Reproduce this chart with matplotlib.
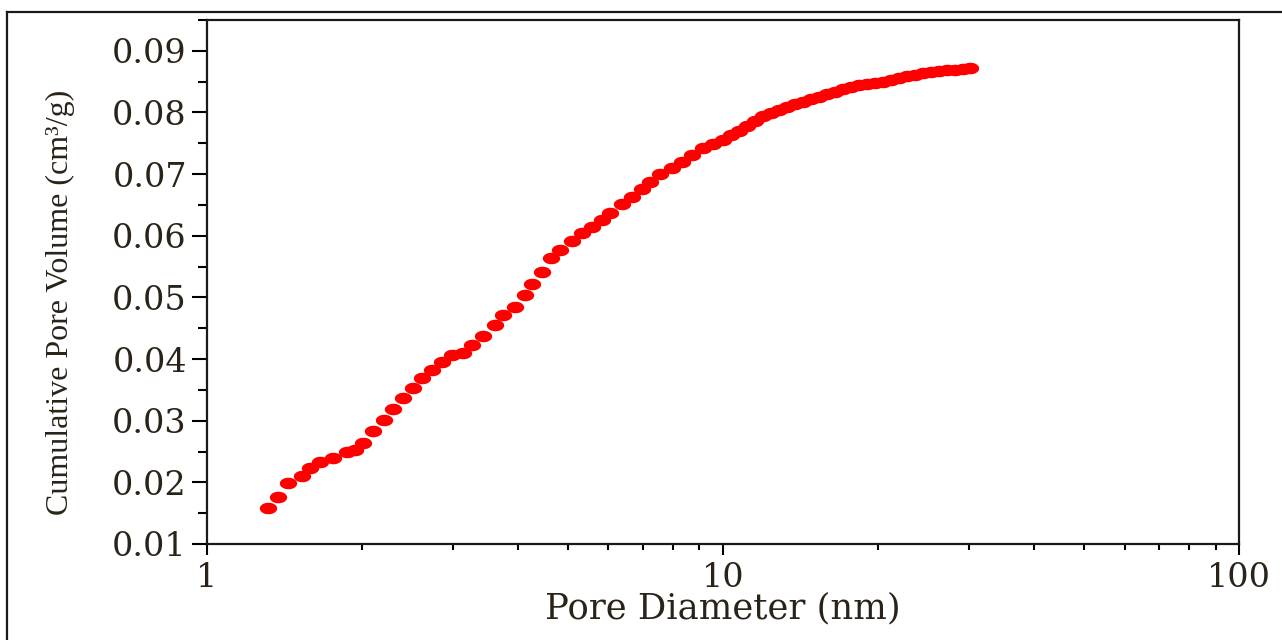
import matplotlib
matplotlib.use("Agg")
import matplotlib.pyplot as plt
import numpy as np
from matplotlib.path import Path
from matplotlib.lines import Line2D
from matplotlib.ticker import FixedLocator, NullFormatter

# pore diameter (nm) and cumulative pore volume (cm3/g)
diameter = [1.314, 1.374, 1.437, 1.530, 1.585, 1.658, 1.757, 1.869, 1.938, 2.008,
            2.100, 2.205, 2.296, 2.400, 2.509, 2.612, 2.731, 2.856, 2.987, 3.137,
            3.265, 3.429, 3.618, 3.749, 3.955, 4.136, 4.267, 4.462, 4.644, 4.834,
            5.100, 5.333, 5.576, 5.830, 6.041, 6.374, 6.664, 6.968, 7.221, 7.551,
            7.965, 8.328, 8.710, 9.147, 9.564, 10.00, 10.36, 10.74, 11.13, 11.53,
            11.95, 12.39, 12.84, 13.30, 13.79, 14.29, 14.80, 15.33, 15.89, 16.48,
            17.08, 17.70, 18.34, 19.00, 19.70, 20.41, 21.16, 21.93, 22.70, 23.54,
            24.40, 25.26, 26.18, 27.13, 28.12, 29.14, 30.09]
volume = [0.0158, 0.0176, 0.0199, 0.0210, 0.0223, 0.0233, 0.0240, 0.0249, 0.0252, 0.0264,
          0.0283, 0.0301, 0.0319, 0.0337, 0.0353, 0.0369, 0.0382, 0.0395, 0.0407, 0.0410,
          0.0423, 0.0437, 0.0455, 0.0471, 0.0484, 0.0504, 0.0522, 0.0541, 0.0564, 0.0577,
          0.0591, 0.0604, 0.0614, 0.0626, 0.0637, 0.0651, 0.0663, 0.0676, 0.0687, 0.0700,
          0.0710, 0.0720, 0.0731, 0.0742, 0.0749, 0.0755, 0.0763, 0.0770, 0.0778, 0.0786,
          0.0794, 0.0799, 0.0804, 0.0809, 0.0814, 0.0817, 0.0822, 0.0825, 0.0830, 0.0833,
          0.0838, 0.0841, 0.0844, 0.0846, 0.0848, 0.0849, 0.0853, 0.0856, 0.0859, 0.0861,
          0.0864, 0.0866, 0.0867, 0.0869, 0.0869, 0.0870, 0.0872]

x_ticks = [1, 10, 100]
x_labels = ["1", "10", "100"]
y_ticks = [0.01, 0.02, 0.03, 0.04, 0.05, 0.06, 0.07, 0.08, 0.09]
y_labels = ["0.01", "0.02", "0.03", "0.04", "0.05", "0.06", "0.07", "0.08", "0.09"]

txt_color = "#2a2318"

fig = plt.figure(figsize=(12.82, 6.4), dpi=100)
ax = fig.add_axes([0.1612, 0.15, 0.8055, 0.819])

# the original picture is stretched sideways, so the dots are flat ellipses
t = np.linspace(0, 2 * np.pi, 40)
ellipse = Path(np.column_stack([1.5 * np.cos(t), np.sin(t)]), closed=True)
ax.plot(diameter, volume, linestyle="none", marker=ellipse, markersize=12.5,
        color="#ff0000", markeredgewidth=0)

ax.set_xscale("log")
ax.set_xlim(1, 100)
ax.set_ylim(0.01, 0.095)

ax.xaxis.set_major_locator(FixedLocator(x_ticks))
ax.set_xticklabels(x_labels)
ax.xaxis.set_minor_locator(FixedLocator([2, 3, 4, 5, 6, 7, 8, 9,
                                         20, 30, 40, 50, 60, 70, 80, 90]))
ax.xaxis.set_minor_formatter(NullFormatter())
ax.set_yticks(y_ticks)
ax.set_yticklabels(y_labels)
ax.yaxis.set_minor_locator(FixedLocator([0.015, 0.025, 0.035, 0.045, 0.055,
                                         0.065, 0.075, 0.085, 0.095]))

for s in ax.spines.values():
    s.set_linewidth(1.6)
    s.set_color("#1a1a1a")

ax.tick_params(axis="x", which="major", direction="out", length=8, width=1.5,
               pad=5, labelsize=24, labelcolor=txt_color)
ax.tick_params(axis="x", which="minor", direction="out", length=4.5, width=1.5)
ax.tick_params(axis="y", which="major", direction="out", length=10.8, width=1.5,
               pad=3.5, labelsize=24, labelcolor=txt_color)
ax.tick_params(axis="y", which="minor", direction="out", length=6.5, width=1.5)

for lab in ax.get_xticklabels() + ax.get_yticklabels():
    lab.set_family("DejaVu Serif")

ax.set_xlabel("Pore Diameter (nm)", family="DejaVu Serif", fontsize=25.5,
              color=txt_color, labelpad=-2)
ax.set_ylabel("Cumulative Pore Volume (cm³/g)", family="Liberation Serif",
              fontsize=23, color=txt_color)
ax.yaxis.label.set_va("center")
ax.yaxis.set_label_coords(-0.142, 0.461)

# outer frame of the original figure
fig.add_artist(Line2D([0.00585, 0.00585], [0.0, 0.9805], transform=fig.transFigure,
                      color="#1a1a1a", linewidth=1.6))
fig.add_artist(Line2D([0.00585, 1.0], [0.9805, 0.9805], transform=fig.transFigure,
                      color="#1a1a1a", linewidth=1.6))

fig.savefig("out.png", dpi=100)
